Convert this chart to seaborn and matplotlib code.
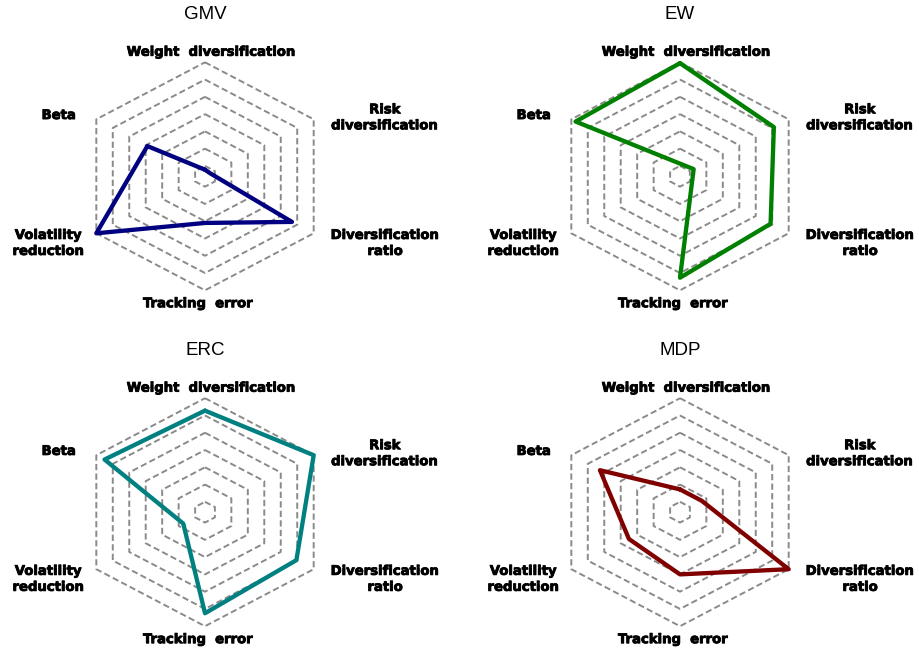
import numpy as np
import pandas as pd
import matplotlib
matplotlib.use("Agg")
import matplotlib.pyplot as plt
import matplotlib.patheffects as pe
import seaborn as sns

# ---------------- data ----------------
categories = ["Weight  diversification", "Risk\ndiversification", "Diversification\nratio",
              "Tracking  error", "Volatility\nreduction", "Beta"]
portfolios = ["GMV", "EW", "ERC", "MDP"]
gmv_values = [-0.22, -0.27, 4.68, 2.10, 6.00, 2.90]
ew_values = [5.95, 5.10, 4.90, 5.27, -1.43, 5.74]
erc_values = [5.28, 6.00, 4.95, 5.25, 0.72, 5.50]
mdp_values = [0.72, 0.72, 6.00, 3.00, 2.50, 4.26]
ring_values = [0, 1, 2, 3, 4, 5, 6]
colors = ["#000080", "#008000", "#008080", "#800000"]

series = [gmv_values, ew_values, erc_values, mdp_values]

# ---------------- layout ----------------
sns.set_theme(style="white")
plt.rcParams["font.family"] = ["DejaVu Sans"]

W, H = 919, 653
fig = plt.figure(figsize=(W / 100, H / 100), dpi=100)
SX, SY = 125.5, 114.0          # pixels per radial unit (x, y)
centers = [(205, 176.3), (680, 176.3), (205, 512.2), (680, 512.2)]
rmin, rmax = -0.6, 6.0

n = len(categories)
angles = np.deg2rad(90 - 360 / n * np.arange(n))
label_pos = [(0.053, 1.088), (1.434, 0.513), (1.437, -0.589),
             (-0.052, -1.118), (-1.247, -0.589), (-1.165, 0.533)]


def rad(v):
    return (np.asarray(v, dtype=float) - rmin) / (rmax - rmin)


for (cx, cy), name, vals, col in zip(centers, portfolios, series, colors):
    ax = fig.add_axes([(cx - 205) / W, (H - (cy + 140)) / H, 445 / W, 315 / H])
    ax.set_xlim(-205 / SX, 240 / SX)
    ax.set_ylim(-140 / SY, 175 / SY)
    ax.axis("off")

    closed = np.append(angles, angles[0])
    for rv in ring_values:
        r = rad(rv)
        ax.plot(r * np.cos(closed), r * np.sin(closed), color="#8a8a8a",
                lw=1.4, ls=(0, (3.2, 1.7)), zorder=1)

    r = rad(np.append(vals, vals[0]))
    df = pd.DataFrame({"x": r * np.cos(closed), "y": r * np.sin(closed)})
    sns.lineplot(data=df, x="x", y="y", sort=False, estimator=None, color=col,
                 lw=3.1, ax=ax, zorder=3, solid_joinstyle="round")

    for lab, (lx, ly) in zip(categories, label_pos):
        ax.text(lx, ly, lab, ha="center", va="center", fontsize=9.5,
                fontweight="bold", color="black", linespacing=1.3,
                path_effects=[pe.withStroke(linewidth=0.6, foreground="black")])

    ax.text(0, 161.5 / SY, name, ha="center", va="center", fontsize=13.5,
            family=["Liberation Sans", "DejaVu Sans"], color="black")

fig.savefig("out.png", dpi=100)
